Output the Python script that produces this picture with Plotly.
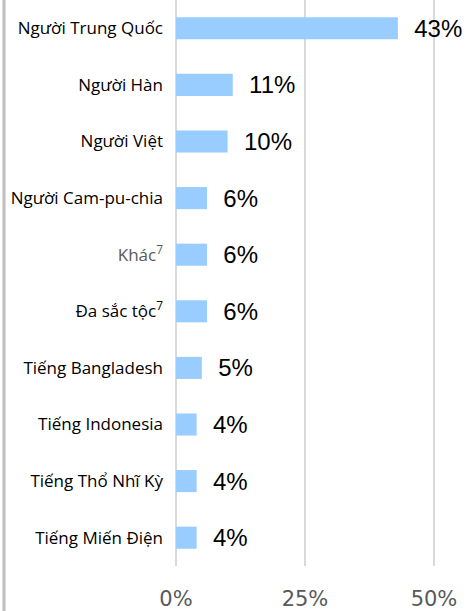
import plotly.graph_objects as go

categories = ["Người Trung Quốc", "Người Hàn", "Người Việt", "Người Cam-pu-chia",
              "<span style='color:#595959'>Khác<sup>7</sup></span>", "Đa sắc tộc<sup>7</sup>",
              "Tiếng Bangladesh", "Tiếng Indonesia", "Tiếng Thổ Nhĩ Kỳ", "Tiếng Miến Điện"]
values = [43, 11, 10, 6, 6, 6, 5, 4, 4, 4]
tick_vals = [0, 25, 50]
tick_text = ["0%", "25%", "50%"]

W, H = 467, 611
L, R, T, B = 176, 0, 0, 45

fig = go.Figure(go.Bar(
    y=categories, x=values, orientation="h",
    marker=dict(color="#99CCFF", line=dict(width=0)),
    text=[f"  {v}%" for v in values], textposition="outside",
    textfont=dict(family="Liberation Sans, Arial", size=24, color="#000000"),
    constraintext="none",
    cliponaxis=False, width=0.39,
    hoverinfo="skip",
))

fig.update_layout(
    width=W, height=H,
    margin=dict(l=L, r=R, t=T, b=B, autoexpand=False),
    plot_bgcolor="white", paper_bgcolor="white",
    showlegend=False,
    xaxis=dict(range=[0, 56.4], tickvals=tick_vals, ticktext=tick_text,
               showgrid=True, gridcolor="#D9D9D9", gridwidth=2,
               zeroline=True, zerolinecolor="#D9D9D9", zerolinewidth=2,
               tickfont=dict(family="DejaVu Sans", size=21, color="#595959"),
               ticks="", ticklabelstandoff=18, automargin=False),
    yaxis=dict(autorange="reversed",
               tickfont=dict(family="Open Sans", size=17, color="#000000"),
               ticks="", ticklabelstandoff=12, showgrid=False, automargin=False),
    shapes=[dict(type="line", xref="paper", yref="paper",
                 x0=(4 - L) / (W - L - R), x1=(4 - L) / (W - L - R),
                 y0=-B / (H - T - B), y1=1,
                 line=dict(color="#BFBFBF", width=3))],
)

fig.write_html("out.html", config={"displayModeBar": False, "staticPlot": True},
               post_script="document.body.style.margin='0';document.body.style.padding='0';")
